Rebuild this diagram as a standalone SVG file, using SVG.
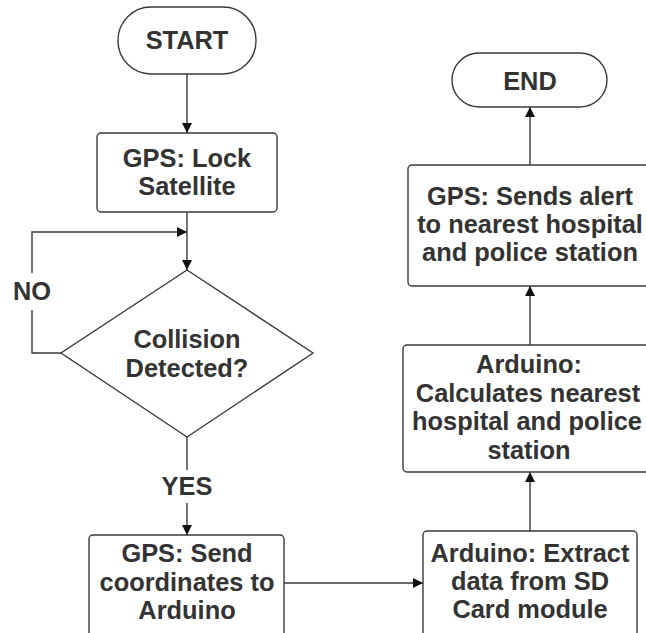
<svg xmlns="http://www.w3.org/2000/svg" width="646" height="633" viewBox="0 0 646 633">
<defs>
<style>
.box{fill:#fff;stroke:#3a3a3a;stroke-width:1.4}
.ln{fill:none;stroke:#3a3a3a;stroke-width:1.4}
.t{font-family:"Liberation Sans",Arial,sans-serif;font-weight:bold;font-size:25.4px;fill:#333;text-anchor:middle}
</style>
<marker id="ah" viewBox="0 0 10 10" refX="10" refY="5" markerWidth="10" markerHeight="10" markerUnits="userSpaceOnUse" orient="auto">
<path d="M0,0 L10,5 L0,10 Z" fill="#111"/>
</marker>
</defs>
<rect width="646" height="633" fill="#fff"/>
<g id="connectors">
<line class="ln" x1="187" y1="74" x2="187" y2="133" marker-end="url(#ah)"/>
<line class="ln" x1="187" y1="212" x2="187" y2="270" marker-end="url(#ah)"/>
<polyline class="ln" points="61,353 32,353 32,310"/>
<polyline class="ln" points="32,273 32,232 187,232" marker-end="url(#ah)"/>
<line class="ln" x1="187" y1="437" x2="187" y2="470"/>
<line class="ln" x1="187" y1="503" x2="187" y2="535" marker-end="url(#ah)"/>
<line class="ln" x1="284" y1="583" x2="423" y2="583" marker-end="url(#ah)"/>
<line class="ln" x1="530" y1="531" x2="530" y2="472" marker-end="url(#ah)"/>
<line class="ln" x1="530" y1="345" x2="530" y2="286" marker-end="url(#ah)"/>
<line class="ln" x1="530" y1="165" x2="530" y2="107" marker-end="url(#ah)"/>
<text class="t" x="32" y="300">NO</text>
<text class="t" x="187" y="495">YES</text>
</g>
<g id="start">
<rect class="box" x="118" y="7" width="138" height="67" rx="33"/>
<text class="t" x="187" y="49">START</text>
</g>
<g id="lock">
<rect class="box" x="97" y="133" width="180" height="79" rx="4"/>
<text class="t" x="187" y="167">GPS: Lock</text>
<text class="t" x="187" y="195">Satellite</text>
</g>
<g id="collision">
<polygon class="box" points="187,270 313,353 187,437 61,353"/>
<text class="t" x="187" y="348">Collision</text>
<text class="t" x="187" y="377">Detected?</text>
</g>
<g id="send">
<rect class="box" x="89" y="535" width="195" height="105" rx="4"/>
<text class="t" x="187" y="562">GPS: Send</text>
<text class="t" x="187" y="591">coordinates to</text>
<text class="t" x="187" y="619">Arduino</text>
</g>
<g id="extract">
<rect class="box" x="423" y="531" width="214" height="110" rx="4"/>
<text class="t" x="530" y="562">Arduino: Extract</text>
<text class="t" x="530" y="590">data from SD</text>
<text class="t" x="530" y="618">Card module</text>
</g>
<g id="calculate">
<rect class="box" x="403" y="345" width="254" height="127" rx="4"/>
<text class="t" x="529" y="373">Arduino:</text>
<text class="t" x="528" y="402">Calculates nearest</text>
<text class="t" x="527" y="430">hospital and police</text>
<text class="t" x="529" y="459">station</text>
</g>
<g id="alert">
<rect class="box" x="408" y="165" width="244" height="121" rx="4"/>
<text class="t" x="530" y="205">GPS: Sends alert</text>
<text class="t" x="530" y="233">to nearest hospital</text>
<text class="t" x="530" y="261">and police station</text>
</g>
<g id="end">
<rect class="box" x="452" y="53" width="155" height="54" rx="27"/>
<text class="t" x="530" y="90">END</text>
</g>
</svg>
